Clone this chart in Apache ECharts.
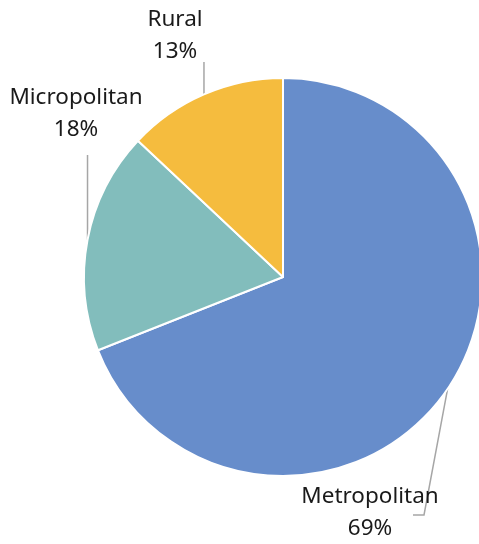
<!DOCTYPE html>
<html>
<head>
<meta charset="utf-8">
<script src="https://cdn.jsdelivr.net/npm/echarts@6/dist/echarts.min.js"></script>
<style>
  html, body { margin: 0; padding: 0; background: #fff; }
  #chart { width: 479px; height: 544px; }
</style>
</head>
<body>
<div id="chart"></div>
<script>
// Share of places by area type
const categories = ['Metropolitan', 'Micropolitan', 'Rural'];
const shares = [69, 18, 13];
const colors = ['#678DCB', '#82BDBC', '#F5BC3E'];

// Where each label block sits (centre) and how its leader line bends
const labelSpots = {
  Metropolitan: { x: 370, y: 513 },
  Micropolitan: { x: 76, y: 114 },
  Rural: { x: 175, y: 36 }
};

const chart = echarts.init(document.getElementById('chart'), null, { renderer: 'canvas' });

chart.setOption({
  animation: false,
  backgroundColor: '#ffffff',
  series: [{
    type: 'pie',
    center: [283, 277],
    radius: 199,
    startAngle: 90,
    clockwise: true,
    avoidLabelOverlap: false,
    itemStyle: { borderColor: '#ffffff', borderWidth: 2 },
    label: {
      show: true,
      position: 'outside',
      formatter: '{b}\n{d}%',
      fontFamily: 'Noto Sans',
      fontSize: 22.5,
      lineHeight: 32,
      color: '#1a1a1a',
      align: 'center'
    },
    labelLine: {
      show: true,
      length: 20,
      length2: 10,
      lineStyle: { color: '#A6A6A6', width: 1.5 }
    },
    labelLayout: function (params) {
      const name = categories[params.dataIndex];
      const spot = labelSpots[name];
      const pts = params.labelLinePoints;
      const start = pts ? pts[0] : null;
      const out = { x: spot.x, y: spot.y, align: 'center', verticalAlign: 'middle' };
      if (start) {
        if (name === 'Metropolitan') {
          out.labelLinePoints = [start, [spot.x + 54, spot.y + 2], [spot.x + 43, spot.y + 2]];
        } else {
          out.labelLinePoints = [start, [start[0], spot.y + 26 + (name === 'Micropolitan' ? 15 : 0)]];
        }
      }
      return out;
    },
    data: categories.map((c, i) => ({
      name: c,
      value: shares[i],
      itemStyle: { color: colors[i] }
    }))
  }]
});
</script>
</body>
</html>
